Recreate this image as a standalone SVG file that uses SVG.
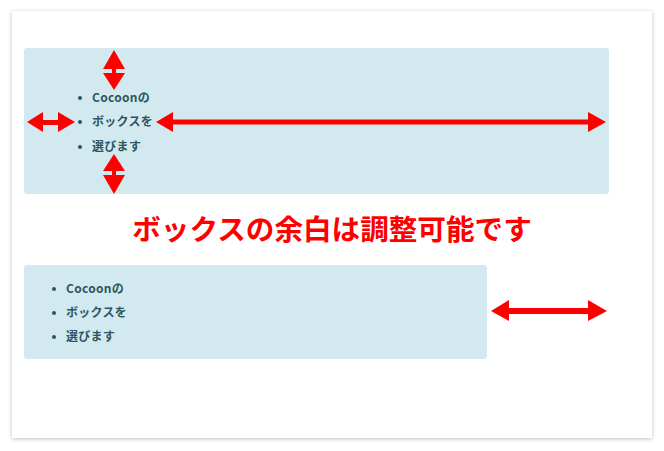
<svg xmlns="http://www.w3.org/2000/svg" width="664" height="451" viewBox="0 0 664 451">
<defs>
<filter id="sh" x="-5%" y="-5%" width="110%" height="110%">
<feDropShadow dx="0" dy="1" stdDeviation="2" flood-color="#000" flood-opacity="0.25"/>
</filter>
<style>
.box{fill:#d2eaef}
.t{font-family:"Noto Sans CJK JP","Noto Sans",sans-serif;font-size:12px;font-weight:bold;fill:#2d5561;letter-spacing:0.3px}
.b{fill:#2d5561}
.arr{fill:#ff0000}
.title{font-family:"Noto Sans CJK JP",sans-serif;font-size:28.6px;font-weight:bold;fill:#ff0000}
</style>
</defs>
<rect x="12" y="11" width="640" height="427" fill="#fff" filter="url(#sh)"/>
<g id="box1">
<rect class="box" x="24" y="48" width="585" height="146" rx="3"/>
<circle class="b" cx="80" cy="98" r="2"/>
<circle class="b" cx="80" cy="122" r="2"/>
<circle class="b" cx="80" cy="147" r="2"/>
<text class="t" x="92" y="102">Cocoonの</text>
<text class="t" x="92" y="126">ボックスを</text>
<text class="t" x="92" y="151">選びます</text>
</g>
<text class="title" x="332" y="240" text-anchor="middle">ボックスの余白は調整可能です</text>
<g id="box2">
<rect class="box" x="24" y="265" width="463" height="94" rx="3"/>
<circle class="b" cx="54" cy="289" r="2"/>
<circle class="b" cx="54" cy="313" r="2"/>
<circle class="b" cx="54" cy="337" r="2"/>
<text class="t" x="66" y="293">Cocoonの</text>
<text class="t" x="66" y="317">ボックスを</text>
<text class="t" x="66" y="341">選びます</text>
</g>
<g id="connectors">
<polygon class="arr" points="114,50 125,69 103,69"/>
<rect class="arr" x="112" y="68" width="4" height="6"/>
<polygon class="arr" points="103,73 125,73 114,90"/>
<polygon class="arr" points="114,154 125,171 103,171"/>
<rect class="arr" x="112" y="170" width="4" height="6"/>
<polygon class="arr" points="103,175 125,175 114,194"/>
<polygon class="arr" points="27,122 43,112 43,132"/>
<rect class="arr" x="42" y="120" width="17" height="5"/>
<polygon class="arr" points="58,112 75,122 58,132"/>
<polygon class="arr" points="156,122 173,112 173,132"/>
<rect class="arr" x="172" y="119.5" width="417" height="5"/>
<polygon class="arr" points="588,112 606,122 588,132"/>
<polygon class="arr" points="491,311 509,300 509,321"/>
<rect class="arr" x="508" y="308" width="81" height="6"/>
<polygon class="arr" points="588,300 607,311 588,321"/>
</g>
</svg>
